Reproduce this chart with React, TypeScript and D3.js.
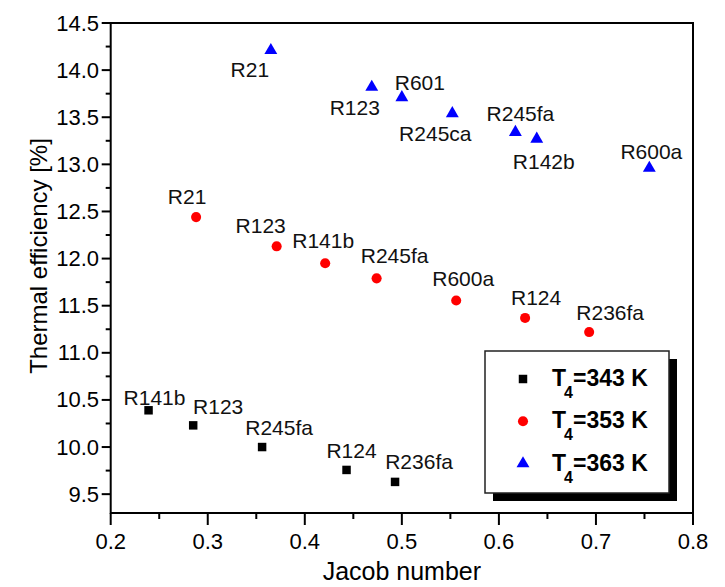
import React, { useRef, useEffect } from 'react';
import * as d3 from "d3";

// T4 = 343 K
const names343 = ["R141b", "R123", "R245fa", "R124", "R236fa"];
const jacob343 = [0.239, 0.285, 0.356, 0.443, 0.493];
const eff343 = [10.39, 10.23, 10.0, 9.757, 9.63];

// T4 = 353 K
const names353 = ["R21", "R123", "R141b", "R245fa", "R600a", "R124", "R236fa"];
const jacob353 = [0.288, 0.371, 0.421, 0.474, 0.556, 0.627, 0.693];
const eff353 = [12.44, 12.13, 11.95, 11.79, 11.555, 11.37, 11.22];

// T4 = 363 K
const names363 = ["R21", "R123", "R601", "R245ca", "R245fa", "R142b", "R600a"];
const jacob363 = [0.365, 0.469, 0.5, 0.552, 0.617, 0.639, 0.755];
const eff363 = [14.21, 13.82, 13.71, 13.54, 13.34, 13.27, 12.96];

const xTicks = [0.2, 0.3, 0.4, 0.5, 0.6, 0.7, 0.8];
const yTicks = [9.5, 10.0, 10.5, 11.0, 11.5, 12.0, 12.5, 13.0, 13.5, 14.0, 14.5];

// label placement (dx, dy from the marker), by hand
const offs343 = [[6, -5], [25, -11], [17, -12], [5, -12], [24, -13]];
const offs353 = [[-9, -13], [-16, -13], [-2, -15], [18, -15], [7, -15], [11, -13], [21, -12]];
const offs363 = [[-21, 27], [-17, 28], [18, -7], [-17, 28], [5, -11], [7, 30], [2, -9]];

const FONT = "'Liberation Sans', Arial, sans-serif";

export default function App() {
  const svgRef = useRef(null);

  useEffect(() => {
    const svg = d3.select(svgRef.current);
    svg.selectAll("*").remove();

    const left = 110.7, right = 693, top = 23, bottom = 513;
    const x = d3.scaleLinear().domain([0.2, 0.8]).range([left, right]);
    const y = d3.scaleLinear().domain([9.3, 14.5]).range([bottom, top]);

    const series = [
      { label: "343", names: names343, xs: jacob343, ys: eff343, offs: offs343, color: "#000000", shape: d3.symbolSquare, size: 72 },
      { label: "353", names: names353, xs: jacob353, ys: eff353, offs: offs353, color: "#ff0000", shape: d3.symbolCircle, size: 80 },
      { label: "363", names: names363, xs: jacob363, ys: eff363, offs: offs363, color: "#0000ff", shape: d3.symbolTriangle, size: 72 },
    ];

    // frame
    svg.append("rect")
      .attr("x", left).attr("y", top)
      .attr("width", right - left).attr("height", bottom - top)
      .attr("fill", "none").attr("stroke", "#000").attr("stroke-width", 2);

    // x ticks
    const xMinor = d3.range(0.25, 0.8, 0.1);
    svg.selectAll(".xmaj").data(xTicks).join("line")
      .attr("x1", d => x(d)).attr("x2", d => x(d))
      .attr("y1", bottom).attr("y2", bottom + 12)
      .attr("stroke", "#000").attr("stroke-width", 2);
    svg.selectAll(".xmin").data(xMinor).join("line")
      .attr("x1", d => x(d)).attr("x2", d => x(d))
      .attr("y1", bottom).attr("y2", bottom + 6)
      .attr("stroke", "#000").attr("stroke-width", 2);
    svg.selectAll(".xlab").data(xTicks).join("text")
      .attr("x", d => x(d)).attr("y", 549)
      .attr("text-anchor", "middle")
      .attr("font-family", FONT).attr("font-size", 22)
      .text(d => d.toFixed(1));

    // y ticks
    const yMinor = d3.range(9.75, 14.5, 0.5);
    svg.selectAll(".ymaj").data(yTicks).join("line")
      .attr("x1", left - 9).attr("x2", left)
      .attr("y1", d => y(d)).attr("y2", d => y(d))
      .attr("stroke", "#000").attr("stroke-width", 2);
    svg.selectAll(".ymin").data(yMinor).join("line")
      .attr("x1", left - 5).attr("x2", left)
      .attr("y1", d => y(d)).attr("y2", d => y(d))
      .attr("stroke", "#000").attr("stroke-width", 2);
    svg.selectAll(".ylab").data(yTicks).join("text")
      .attr("x", 99).attr("y", d => y(d) + 7.5)
      .attr("text-anchor", "end")
      .attr("font-family", FONT).attr("font-size", 22)
      .text(d => d.toFixed(1));

    // axis titles
    svg.append("text")
      .attr("x", x(0.5)).attr("y", 580)
      .attr("text-anchor", "middle")
      .attr("font-family", FONT).attr("font-size", 25)
      .text("Jacob number");
    svg.append("text")
      .attr("transform", "translate(47,256) rotate(-90)")
      .attr("text-anchor", "middle")
      .attr("font-family", FONT).attr("font-size", 24)
      .text("Thermal efficiency [%]");

    // points + labels
    series.forEach(s => {
      const g = svg.append("g");
      s.xs.forEach((xv, i) => {
        const px = x(xv), py = y(s.ys[i]);
        g.append("path")
          .attr("d", d3.symbol().type(s.shape).size(s.size)())
          .attr("transform", `translate(${px},${py})`)
          .attr("fill", s.color);
        g.append("text")
          .attr("x", px + s.offs[i][0]).attr("y", py + s.offs[i][1])
          .attr("text-anchor", "middle")
          .attr("font-family", FONT).attr("font-size", 21)
          .attr("fill", "#111")
          .text(s.names[i]);
      });
    });

    // legend
    const lx = 485, ly = 351, lw = 184, lh = 142;
    svg.append("rect")
      .attr("x", lx + 8).attr("y", ly + 8).attr("width", lw).attr("height", lh)
      .attr("fill", "#000");
    svg.append("rect")
      .attr("x", lx).attr("y", ly).attr("width", lw).attr("height", lh)
      .attr("fill", "#fff").attr("stroke", "#222").attr("stroke-width", 1.5);

    series.forEach((s, i) => {
      const by = 386 + i * 42.3;
      svg.append("path")
        .attr("d", d3.symbol().type(s.shape).size(s.size)())
        .attr("transform", `translate(523,${by - 7})`)
        .attr("fill", s.color);
      const t = svg.append("text")
        .attr("x", 552).attr("y", by)
        .attr("font-family", FONT).attr("font-size", 23).attr("font-weight", "bold");
      t.append("tspan").text("T");
      t.append("tspan").attr("font-size", 16).attr("dx", -2).attr("dy", 12).text("4");
      t.append("tspan").attr("dy", -12).text(`=${s.label} K`);
    });
  }, []);

  return (
    <svg ref={svgRef} width={725} height={587}
      style={{ position: "absolute", left: 0, top: 0, background: "#fff" }} />
  );
}
